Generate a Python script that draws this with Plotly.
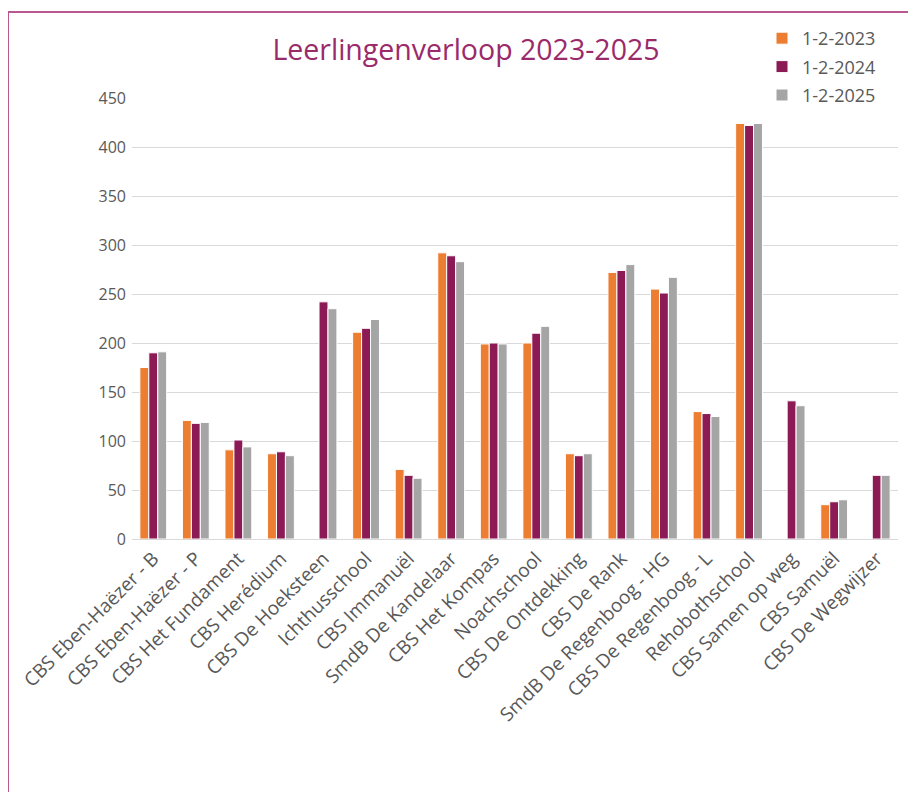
import plotly.graph_objects as go

categories = [
    "CBS Eben-Haëzer - B", "CBS Eben-Haëzer - P", "CBS Het Fundament", "CBS Herédium",
    "CBS De Hoeksteen", "Ichthusschool", "CBS Immanuël", "SmdB De Kandelaar",
    "CBS Het Kompas", "Noachschool", "CBS De Ontdekking", "CBS De Rank",
    "SmdB De Regenboog - HG", "CBS De Regenboog - L", "Rehobothschool",
    "CBS Samen op weg", "CBS Samuël", "CBS De Wegwijzer",
]
v2023 = [175, 121, 91, 87, None, 211, 71, 292, 199, 200, 87, 272, 255, 130, 424, None, 35, None]
v2024 = [190, 118, 101, 89, 242, 215, 65, 289, 200, 210, 85, 274, 251, 128, 422, 141, 38, 65]
v2025 = [191, 119, 94, 85, 235, 224, 62, 283, 199, 217, 87, 280, 267, 125, 424, 136, 40, 65]
series_names = ["1-2-2023", "1-2-2024", "1-2-2025"]
colors = ["#ED7D31", "#8C1B55", "#A5A5A5"]

FONT = "Open Sans"
fig = go.Figure()
for i, (name, vals, col) in enumerate(zip(series_names, [v2023, v2024, v2025], colors)):
    fig.add_trace(go.Bar(
        x=categories, y=vals, name=name, legendgroup=name,
        marker=dict(color=col, line=dict(color="white", width=1)),
    ))

# page offset (body margin) of 8px
OFF = 8
W, H = 916 - OFF, 792 - OFF
# plot area in screenshot coords: x 132..898, y 98..539
L, R = 132 - OFF, 916 - 898
T, B = 98 - OFF, 792 - 539
pw, ph = W - L - R, H - T - B

def px(x):
    return (x - OFF - L) / pw

def py(y):
    return (H - B - (y - OFF)) / ph

fig.update_layout(
    width=W, height=H,
    margin=dict(l=L, r=R, t=T, b=B, autoexpand=False),
    paper_bgcolor="white", plot_bgcolor="white",
    barmode="group", bargap=0.37, bargroupgap=0,
    title=dict(text="Leerlingenverloop 2023-2025", x=(466 - OFF) / W, xref="container",
               y=1 - (50 - OFF) / H, yref="container", xanchor="center", yanchor="middle",
               font=dict(family=FONT, size=28.5, color="#9A2A6A")),
    legend=dict(x=px(762), y=py(20), xanchor="left", yanchor="top",
                bgcolor="rgba(0,0,0,0)", tracegroupgap=2,
                font=dict(family=FONT, size=18, color="#595959"),
                itemwidth=30),
    font=dict(family=FONT, color="#595959"),
    shapes=[dict(type="rect", xref="paper", yref="paper",
                 x0=px(8), x1=px(930), y0=py(805), y1=py(12),
                 line=dict(color="#B8588F", width=2), fillcolor="rgba(0,0,0,0)",
                 layer="below")],
)
fig.update_xaxes(
    tickangle=-45, tickfont=dict(family=FONT, size=19, color="#595959"),
    showline=True, linecolor="#D9D9D9", linewidth=1, ticks="", showgrid=False,
)
fig.update_yaxes(
    range=[0, 450], dtick=50, tick0=0, showgrid=True, gridcolor="#D9D9D9", gridwidth=1,
    zeroline=False, showline=False, ticks="",
    tickfont=dict(family=FONT, size=16, color="#595959"), ticklabelstandoff=5,
)

fig.write_html("out.html")
